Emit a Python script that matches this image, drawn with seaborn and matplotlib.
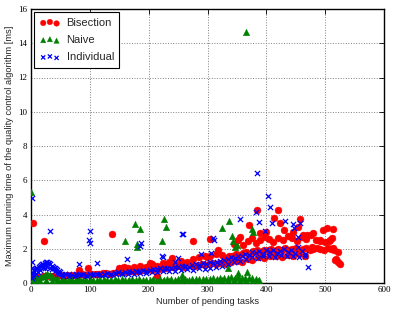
import matplotlib
matplotlib.use("Agg")
import matplotlib.pyplot as plt
import seaborn as sns
import pandas as pd

# ---------------- data ----------------
# Bisection (red circles)
bis_x = [2, 8, 14, 20, 26, 32, 38, 44, 50, 56, 62, 68, 74, 80, 86, 92, 98, 104, 110, 116,
         122, 128, 134, 140, 146, 152, 158, 164, 170, 176, 182, 188, 194, 200, 206, 212, 218,
         224, 230, 236, 242, 248, 254, 260, 266, 272, 278, 284, 290, 296, 302, 308, 314, 320, 326,
         155, 165, 175, 185, 195, 205, 215, 225, 235, 245, 255, 265, 275, 285, 295, 305, 315, 325,
         330, 336, 342, 348, 354, 360, 366, 372, 378, 384, 390, 396, 402, 408, 414, 420, 426, 432,
         438, 444, 450, 456, 462, 468, 474, 480, 486, 492, 498, 504, 510, 515,
         332, 340, 350, 358, 368, 376, 386, 396, 406, 416, 426, 436, 446, 456, 466,
         345, 352, 360, 368, 375, 382, 390, 398, 405, 412, 420, 428, 436, 444, 452, 460, 468, 476,
         484, 492, 500, 508,
         3, 22, 138, 97, 82, 158, 150, 275, 304, 202, 239, 215, 299, 317, 355, 371, 384, 419, 413,
         423, 454, 457, 463, 469, 480, 497, 503, 513, 492, 507, 512, 477, 514, 521, 517, 522, 525,
         518, 400, 430, 445, 390]
bis_y = [0.32, 0.35, 0.36, 0.38, 0.40, 0.38, 0.42, 0.40, 0.44, 0.42, 0.45, 0.47, 0.45, 0.48, 0.50,
         0.48, 0.52, 0.50, 0.55, 0.52, 0.56, 0.58, 0.55, 0.60, 0.62, 0.65, 0.63, 0.68, 0.70, 0.72,
         0.70, 0.75, 0.78, 0.80, 0.78, 0.85, 0.82, 0.88, 0.90, 0.92, 0.95, 0.98, 1.00, 0.95, 1.02,
         1.05, 1.00, 1.08, 1.10, 1.05, 1.12, 1.15, 1.10, 1.18, 1.20,
         0.85, 0.90, 0.95, 1.00, 0.95, 1.10, 1.00, 1.15, 1.20, 1.10, 1.30, 1.25, 1.40, 1.50, 1.60,
         1.55, 1.70, 1.65,
         1.45, 1.55, 1.60, 1.70, 1.65, 1.75, 1.80, 1.70, 1.85, 1.90, 1.80, 1.95, 1.90, 2.00, 1.85,
         2.00, 1.95, 2.05, 1.90, 2.00, 2.05, 1.95, 2.00, 2.05, 1.95, 2.00, 2.05, 2.00, 1.95, 2.05,
         2.00, 1.90,
         1.10, 1.25, 1.30, 1.20, 1.40, 1.35, 1.50, 1.45, 1.60, 1.55, 1.50, 1.65, 1.60, 1.70, 1.55,
         2.30, 2.50, 2.20, 2.45, 2.60, 2.35, 2.50, 2.70, 2.55, 2.40, 2.65, 2.50, 2.75, 2.60, 2.45,
         2.70, 2.55, 2.80, 2.50, 2.45, 2.40, 2.50,
         3.49, 2.43, 2.88, 0.88, 0.74, 0.95, 0.86, 2.47, 2.55, 1.15, 1.48, 0.43, 1.54, 1.93, 2.67,
         3.37, 4.26, 4.26, 3.81, 3.48, 3.29, 3.72, 2.80, 2.80, 2.94, 3.10, 3.19, 3.13, 2.51, 2.47,
         2.60, 2.12, 2.03, 1.83, 1.34, 1.25, 1.11, 1.40, 3.00, 3.10, 3.00, 2.90]

# Naive (green triangles)
nai_x = [0, 4, 8, 12, 16, 20, 24, 28, 32, 36, 40, 46, 52, 58, 64, 70, 76, 82, 88, 94, 100, 106,
         112, 118, 124, 130, 136, 142, 148, 154, 160, 166, 172, 178, 184, 190, 196, 202, 208, 214,
         220, 226, 232, 238, 244, 250, 256, 262, 268, 274, 280, 286, 292, 298, 304, 310, 316, 322,
         328, 334, 340, 346, 352, 358, 364, 370, 376, 382, 388,
         5, 15, 25, 35, 45, 55, 65, 75, 85, 95, 105, 115, 125, 135, 145, 155, 165, 175, 185, 195,
         205, 215, 225, 235, 245, 255, 265, 275, 285, 295, 305, 315, 325, 335, 345, 355, 365, 375,
         385,
         0, 365, 160, 176, 185, 180, 181, 226, 230, 222, 256, 324, 337, 342, 344, 350, 347, 376,
         377, 335, 352, 367, 28]
nai_y = [0.25, 0.20, 0.30, 0.25, 0.35, 0.40, 0.45, 0.50, 0.45, 0.35, 0.30, 0.20, 0.25, 0.20, 0.22,
         0.18, 0.20, 0.22, 0.18, 0.20, 0.22, 0.20, 0.18, 0.20, 0.22, 0.20, 0.18, 0.22, 0.20, 0.22,
         0.20, 0.18, 0.22, 0.20, 0.22, 0.20, 0.18, 0.20, 0.22, 0.20, 0.24, 0.20, 0.22, 0.25, 0.20,
         0.24, 0.22, 0.25, 0.20, 0.22, 0.25, 0.22, 0.26, 0.24, 0.26, 0.28, 0.25, 0.30, 0.28, 0.32,
         0.35, 0.30, 0.33, 0.30, 0.32, 0.28, 0.30, 0.25, 0.20,
         0.10, 0.12, 0.15, 0.12, 0.10, 0.08, 0.10, 0.09, 0.11, 0.08, 0.10, 0.09, 0.08, 0.10, 0.09,
         0.11, 0.10, 0.08, 0.10, 0.09, 0.11, 0.10, 0.12, 0.10, 0.11, 0.12, 0.10, 0.13, 0.12, 0.14,
         0.15, 0.14, 0.16, 0.18, 0.17, 0.15, 0.16, 0.14, 0.10,
         5.33, 14.68, 2.45, 3.43, 3.17, 2.26, 2.08, 3.72, 3.29, 2.47, 0.47, 3.23, 3.64, 2.77, 2.45,
         2.22, 2.08, 3.13, 3.00, 0.86, 0.56, 0.62, 0.55]

# Individual (blue crosses)
ind_x = [3, 5, 7, 9, 11, 13, 15, 17, 19, 21, 23, 25, 27, 29, 31, 33, 35, 37, 39, 41, 43, 45, 47, 49,
         4, 8, 12, 16, 20, 24, 28, 32, 36, 40, 44, 48,
         52, 58, 64, 70, 76, 82, 88, 94, 100, 106, 112, 118, 124, 130, 136, 142, 148, 154, 160,
         166, 172, 178, 184, 190, 196, 202, 208, 214, 220, 226, 232, 238, 244, 250, 256, 262, 268,
         274, 280, 286, 292, 298, 304, 310, 316, 322, 328, 334, 340, 346, 352, 358, 364, 370, 376,
         382, 388, 394, 400, 406, 412, 418, 424, 430, 436, 442, 448, 454, 460, 466,
         55, 65, 75, 85, 95, 105, 115, 125, 135, 145, 155, 165, 175, 185, 195, 205, 215, 225, 235,
         245, 255, 265, 275, 285, 295, 305, 315, 325, 335, 345, 355, 365, 375, 385, 395, 405, 415,
         425, 435, 445, 455, 465,
         1, 2, 33, 100, 99, 101, 112, 82, 164, 187, 185, 223, 225, 256, 258, 250, 310, 311, 245,
         306, 289, 384, 402, 406, 383, 355, 388, 409, 398, 446, 447, 453, 470, 431, 457, 2, 4, 1]
ind_y = [0.60, 0.70, 0.80, 0.85, 0.90, 0.95, 1.00, 1.05, 1.10, 1.12, 1.15, 1.20, 1.22, 1.18, 1.15,
         1.10, 1.00, 0.95, 0.90, 0.85, 0.80, 0.75, 0.70, 0.65,
         0.40, 0.55, 0.65, 0.75, 0.85, 0.90, 0.95, 0.90, 0.80, 0.70, 0.60, 0.50,
         0.55, 0.50, 0.52, 0.48, 0.50, 0.52, 0.50, 0.48, 0.52, 0.50, 0.55, 0.52, 0.55, 0.58, 0.55,
         0.60, 0.62, 0.60, 0.65, 0.68, 0.65, 0.70, 0.72, 0.75, 0.72, 0.78, 0.80, 0.82, 0.85, 0.88,
         0.85, 0.90, 0.92, 0.95, 0.98, 1.00, 0.95, 1.05, 1.10, 1.05, 1.15, 1.10, 1.20, 1.15, 1.25,
         1.30, 1.35, 1.40, 1.50, 1.45, 1.60, 1.55, 1.70, 1.65, 1.80, 1.75, 1.85, 1.70, 1.90, 1.80,
         1.95, 1.75, 1.85, 2.00, 1.80, 1.90, 1.75, 2.10, 1.85, 1.70,
         0.40, 0.42, 0.40, 0.45, 0.42, 0.44, 0.45, 0.48, 0.46, 0.50, 0.52, 0.55, 0.55, 0.58, 0.60,
         0.62, 0.65, 0.68, 0.70, 0.72, 0.75, 0.80, 0.78, 0.85, 0.82, 0.90, 0.95, 1.00, 1.10, 1.20,
         1.30, 1.40, 1.50, 1.45, 1.55, 1.60, 1.50, 1.65, 1.55, 1.60, 1.50, 1.55,
         4.95, 1.24, 3.04, 3.04, 2.51, 2.36, 1.19, 1.09, 1.38, 2.36, 2.16, 1.60, 1.50, 2.86, 2.86,
         1.48, 2.65, 2.50, 1.25, 1.77, 1.67, 6.44, 5.10, 4.46, 4.17, 3.72, 3.58, 3.48, 3.04, 3.42,
         3.19, 2.70, 0.92, 3.64, 3.48, 0.90, 0.60, 0.30]

x_ticks = [0, 100, 200, 300, 400, 500, 600]
y_ticks = [0, 2, 4, 6, 8, 10, 12, 14, 16]
x_label = "Number of pending tasks"
y_label = "Maximum running time of the quality control algorithm [ms]"

# ---------------- plotting ----------------
sns.set_style("white")
plt.rcParams["font.family"] = ["Liberation Sans", "DejaVu Sans"]

fig = plt.figure(figsize=(3.97, 3.14), dpi=100)
ax = fig.add_axes([31 / 397, 1 - 283 / 314, 353 / 397, 274 / 314])

df_b = pd.DataFrame({"x": bis_x, "y": bis_y})
df_n = pd.DataFrame({"x": nai_x, "y": nai_y})
df_i = pd.DataFrame({"x": ind_x, "y": ind_y})

sns.scatterplot(data=df_b, x="x", y="y", ax=ax, color="red", marker="o", s=25,
                edgecolor="red", linewidth=0.3, label="Bisection", zorder=3)
sns.scatterplot(data=df_n, x="x", y="y", ax=ax, color="green", marker="^", s=22,
                edgecolor="green", linewidth=0.3, label="Naive", zorder=4)
sns.scatterplot(data=df_i, x="x", y="y", ax=ax, color="blue", marker="x", s=14,
                linewidth=0.9, label="Individual", zorder=5)

ax.set_xlim(0, 600)
ax.set_ylim(0, 16)
ax.set_xticks(x_ticks)
ax.set_yticks(y_ticks)
ax.set_xticklabels([str(t) for t in x_ticks], family="Liberation Serif", fontsize=6.5)
ax.set_yticklabels([str(t) for t in y_ticks], family="Liberation Serif", fontsize=6.5)
ax.set_xlabel(x_label, fontsize=6.7, labelpad=2)
ax.set_ylabel(y_label, fontsize=6.7, labelpad=3)

ax.tick_params(direction="in", length=3.5, width=0.6, top=True, right=True,
               pad=2.5, colors="black")
ax.grid(True, linestyle=":", color="0.5", linewidth=0.7)
ax.set_axisbelow(True)
for sp in ax.spines.values():
    sp.set_visible(True)
    sp.set_color("black")
    sp.set_linewidth(1.0)

leg = ax.legend(loc="upper left", scatterpoints=3, scatteryoffsets=[0.375, 0.5, 0.3125],
                fontsize=8, frameon=True, fancybox=False, framealpha=1,
                edgecolor="black", labelspacing=0.65, handlelength=1.8,
                handletextpad=0.6, borderpad=0.5, borderaxespad=0.3, markerscale=0.8)
leg.get_frame().set_linewidth(0.8)

fig.savefig("out.png", dpi=100, facecolor="white")
